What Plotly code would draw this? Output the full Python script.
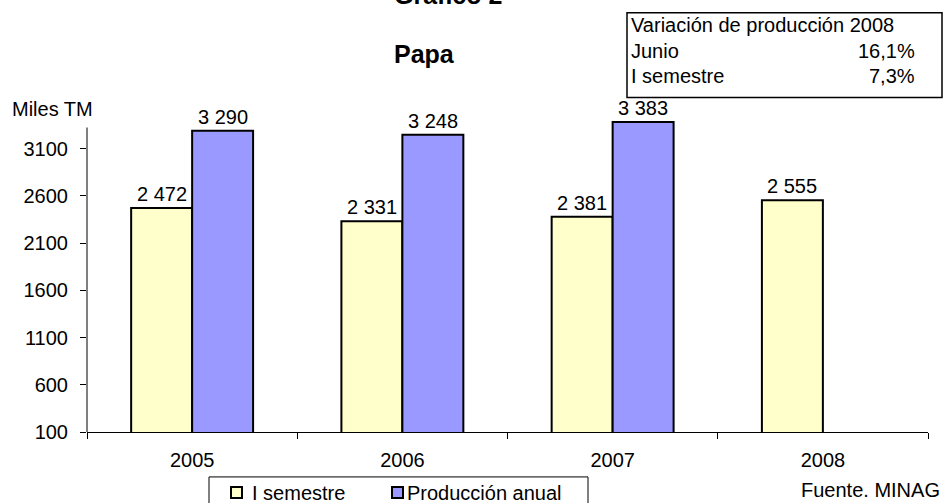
import plotly.graph_objects as go

years = ["2005", "2006", "2007", "2008"]
series_names = ["I semestre", "Producción anual"]
series_colors = ["#FFFFCC", "#9999FF"]
semestre = [2472, 2331, 2381, 2555]
anual = [3290, 3248, 3383, None]
ytick_vals = [100, 600, 1100, 1600, 2100, 2600, 3100]
var_title = "Variación de producción 2008"
var_labels = ["Junio", "I semestre"]
var_values = ["16,1%", "7,3%"]

W, H = 944, 503
L, R, T, B = 87, 16, 110.5, 71
PW = W - L - R
PH = H - T - B
Y_MIN, Y_MAX, AXIS_TOP = 100, 3500, 3325


def px_x(p):
    return (p - L) / PW


def px_y(p):
    return (H - B - p) / PH


def fmt(v):
    return f"{v:,}".replace(",", " ")


FONT = "Liberation Sans, Arial, sans-serif"
FS = 20

fig = go.Figure()
for name, color, vals in zip(series_names, series_colors, [semestre, anual]):
    fig.add_trace(go.Bar(
        x=years, y=vals, name=name, showlegend=False,
        marker=dict(color=color, line=dict(color="black", width=2)),
        cliponaxis=False, hoverinfo="x+y+name",
    ))

fig.update_layout(
    width=W, height=H,
    margin=dict(l=L, r=R, t=T, b=B, autoexpand=False),
    paper_bgcolor="white", plot_bgcolor="white",
    font=dict(family=FONT, size=FS, color="black"),
    barmode="group", bargap=0.42, bargroupgap=0,
    xaxis=dict(
        type="category", categoryorder="array", categoryarray=years,
        range=[-0.5, len(years) - 0.5],
        showline=True, linecolor="black", linewidth=1,
        ticks="outside", tickson="boundaries", ticklen=6, tickcolor="black",
        showgrid=False, tickfont=dict(size=FS), ticklabelstandoff=10,
    ),
    yaxis=dict(
        range=[Y_MIN, Y_MAX], tickvals=ytick_vals,
        showline=False,
        ticks="outside", ticklen=6, tickcolor="black",
        showgrid=False, zeroline=False, tickfont=dict(size=FS), ticklabelstandoff=8,
    ),
)

ann = []
# bar value labels (x given as category index)
bar_half = 30.5
for vals, shift in [(semestre, -bar_half), (anual, bar_half)]:
    for i, v in enumerate(vals):
        if v is None:
            continue
        ann.append(dict(text=fmt(v), x=i, y=v, xref="x", yref="y", showarrow=False,
                        xshift=shift, yshift=14, font=dict(size=FS),
                        xanchor="center", yanchor="middle"))

ann.append(dict(text="<b>Gráfico 2</b>", x=px_x(448), y=px_y(-6), xref="paper", yref="paper",
                showarrow=False, font=dict(size=25), xanchor="center", yanchor="middle"))
ann.append(dict(text="<b>Papa</b>", x=px_x(424), y=px_y(53), xref="paper", yref="paper",
                showarrow=False, font=dict(size=25), xanchor="center", yanchor="middle"))
ann.append(dict(text="Miles TM", x=px_x(10), y=px_y(108), xref="paper", yref="paper",
                showarrow=False, font=dict(size=FS), xanchor="left", yanchor="middle"))
ann.append(dict(text="Fuente. MINAG", x=px_x(942), y=px_y(490), xref="paper", yref="paper",
                showarrow=False, font=dict(size=FS), xanchor="right", yanchor="middle"))
ann.append(dict(text=var_title, x=px_x(629), y=px_y(24), xref="paper", yref="paper",
                showarrow=False, font=dict(size=FS), xanchor="left", yanchor="middle"))
for lab, val, yy in zip(var_labels, var_values, [50, 75]):
    ann.append(dict(text=lab, x=px_x(629), y=px_y(yy), xref="paper", yref="paper",
                    showarrow=False, font=dict(size=FS), xanchor="left", yanchor="middle"))
    ann.append(dict(text=val, x=px_x(917), y=px_y(yy), xref="paper", yref="paper",
                    showarrow=False, font=dict(size=FS), xanchor="right", yanchor="middle"))

shapes = []
# y axis line (stops below top of range, as in the original)
shapes.append(dict(type="line", xref="paper", yref="y", x0=0, x1=0, y0=Y_MIN, y1=AXIS_TOP,
                   line=dict(color="black", width=1)))
# variation box
shapes.append(dict(type="rect", xref="paper", yref="paper",
                   x0=px_x(627), x1=px_x(942), y0=px_y(97), y1=px_y(12),
                   line=dict(color="black", width=1.5), fillcolor="rgba(0,0,0,0)"))
# legend box
shapes.append(dict(type="rect", xref="paper", yref="paper",
                   x0=px_x(209), x1=px_x(588), y0=px_y(510), y1=px_y(477),
                   line=dict(color="black", width=1), fillcolor="white"))
icon_x = [231, 392]
text_x = [250, 405]
for name, color, ix, tx in zip(series_names, series_colors, icon_x, text_x):
    shapes.append(dict(type="rect", xref="paper", yref="paper",
                       x0=px_x(ix), x1=px_x(ix + 11), y0=px_y(498), y1=px_y(487),
                       line=dict(color="black", width=2), fillcolor=color))
    ann.append(dict(text=name, x=px_x(tx), y=px_y(493), xref="paper", yref="paper",
                    showarrow=False, font=dict(size=FS), xanchor="left", yanchor="middle"))

fig.update_layout(annotations=ann, shapes=shapes)

fig.write_html("out.html", config={"displayModeBar": False},
               post_script="document.body.style.margin='0px';document.body.style.overflow='hidden';")
